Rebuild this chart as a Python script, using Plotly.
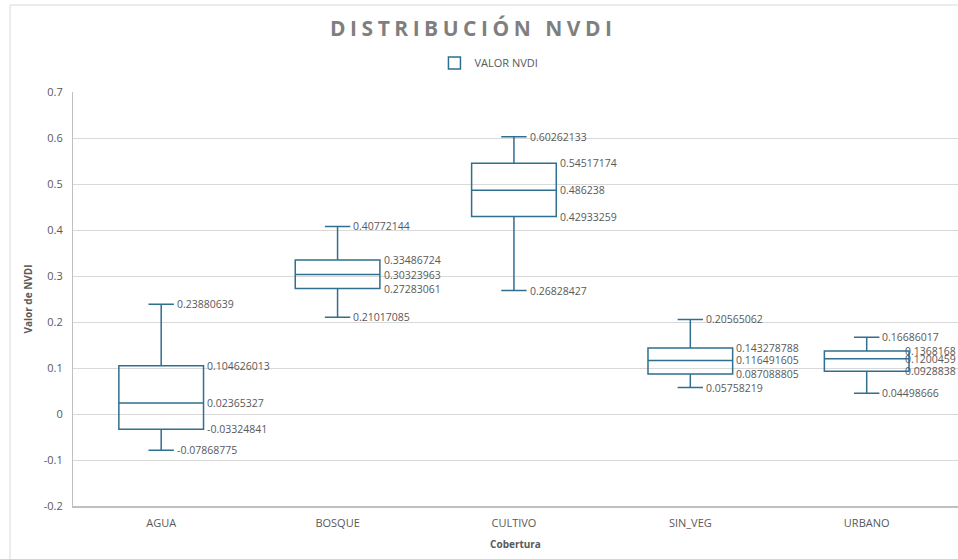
import plotly.graph_objects as go

categories = ["AGUA", "BOSQUE", "CULTIVO", "SIN_VEG", "URBANO"]
upper_fence = [0.23880639, 0.40772144, 0.60262133, 0.20565062, 0.16686017]
q3 = [0.104626013, 0.33486724, 0.54517174, 0.143278788, 0.1368168]
median = [0.02365327, 0.30323963, 0.486238, 0.116491605, 0.1200459]
q1 = [-0.03324841, 0.27283061, 0.42933259, 0.087088805, 0.0928838]
lower_fence = [-0.07868775, 0.21017085, 0.26828427, 0.05758219, 0.04498666]

y_tick_vals = [-0.2, -0.1, 0, 0.1, 0.2, 0.3, 0.4, 0.5, 0.6, 0.7]
y_tick_text = ["-0.2", "-0.1", "0", "0.1", "0.2", "0.3", "0.4", "0.5", "0.6", "0.7"]

LINE = "#2f6f8f"
GRAY = "#595959"
FONT = "Open Sans"

W, H = 958, 559
ML, MR, MT, MB = 73, 0, 92, 53
PLOT_W = W - ML - MR
CAT_W = PLOT_W / len(categories)
BOX_FRAC = 0.48
WHISK = 0.3
CHAR_W = 5.8

fig = go.Figure()
fig.add_trace(go.Box(
    x=categories,
    q1=q1, median=median, q3=q3,
    lowerfence=lower_fence, upperfence=upper_fence,
    name="VALOR NVDI",
    line=dict(color=LINE, width=1.5),
    fillcolor="rgba(255,255,255,0)",
    whiskerwidth=WHISK,
    showlegend=True,
    hoverinfo="skip",
))

annotations = []
box_half = BOX_FRAC * CAT_W / 2
cap_half = box_half * WHISK
for i, c in enumerate(categories):
    center_px = ML + (i + 0.5) * CAT_W
    for vals, shift in ((upper_fence, cap_half + 1), (lower_fence, cap_half + 1),
                        (q3, box_half + 1.5), (median, box_half + 1.5), (q1, box_half + 1.5)):
        txt = f"{vals[i]}"
        width = len(txt) * CHAR_W
        if center_px + shift + width > W:
            shift = W - width - center_px
        annotations.append(dict(
            x=c, y=vals[i], xref="x", yref="y", text=txt,
            showarrow=False, xanchor="left", yanchor="middle", xshift=shift,
            font=dict(family=FONT, size=10.5, color=GRAY),
        ))

fig.update_layout(
    width=W, height=H,
    margin=dict(l=ML, r=MR, t=MT, b=MB, autoexpand=False),
    paper_bgcolor="white", plot_bgcolor="white",
    boxgap=1 - BOX_FRAC, boxgroupgap=0,
    title=dict(
        text='<span style="letter-spacing:4.5px">DISTRIBUCIÓN NVDI</span>',
        x=0.494, xref="container", xanchor="center",
        y=0.948, yref="container", yanchor="middle",
        font=dict(family=FONT, size=21, color="#7f7f7f", weight="bold"),
    ),
    legend=dict(
        orientation="h", x=0.47, xanchor="center",
        y=1.07, yanchor="middle",
        font=dict(family=FONT, size=11, color=GRAY),
        itemwidth=30,
    ),
    xaxis=dict(
        type="category",
        showline=True, linecolor="#bfbfbf", linewidth=2,
        showgrid=False, ticks="", ticklabelstandoff=6,
        tickfont=dict(family=FONT, size=11, color=GRAY),
        title=dict(text="<b>Cobertura</b>", font=dict(family=FONT, size=10, color=GRAY), standoff=12),
    ),
    yaxis=dict(
        range=[-0.2, 0.7],
        tickvals=y_tick_vals, ticktext=y_tick_text,
        showgrid=True, gridcolor="#d9d9d9", gridwidth=1,
        zeroline=False,
        showline=True, linecolor="#bfbfbf", linewidth=1,
        ticks="", ticklabelstandoff=7,
        tickfont=dict(family=FONT, size=11, color=GRAY),
        title=dict(text="<b>Valor de NVDI</b>", font=dict(family=FONT, size=10, color=GRAY), standoff=9),
    ),
    annotations=annotations,
    shapes=[dict(
        type="rect", xref="paper", yref="paper",
        x0=(10 - ML) / PLOT_W, x1=1.02, y0=-0.3, y1=(H - MB - 5) / (H - MT - MB),
        line=dict(color="#d9d9d9", width=1), fillcolor="rgba(0,0,0,0)", layer="below",
    )],
)

fig.write_html("out.html", config={"displayModeBar": False},
               post_script="document.body.style.margin='0';")
